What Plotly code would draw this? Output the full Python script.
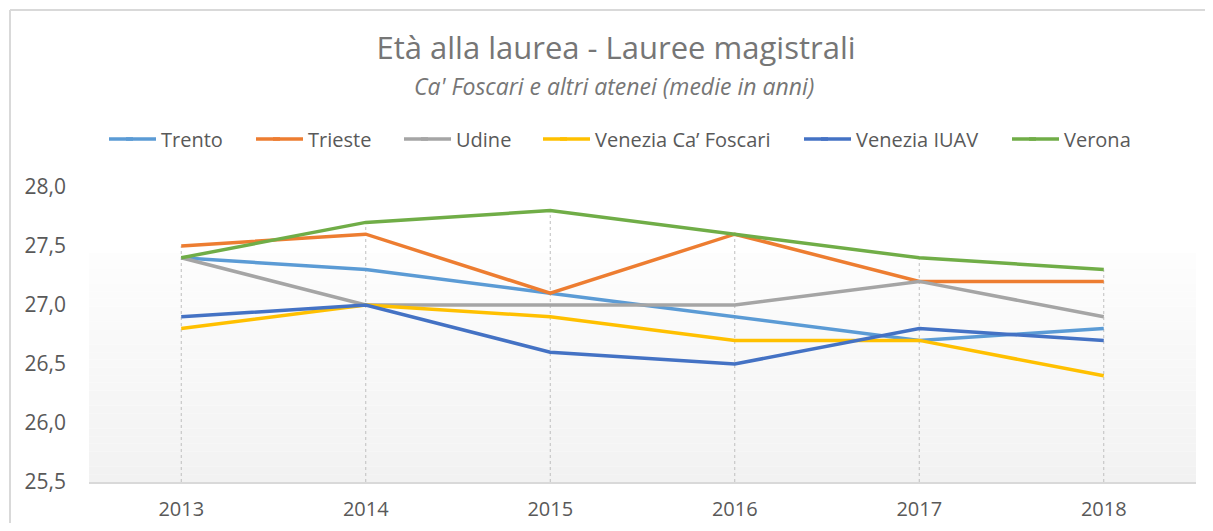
import plotly.graph_objects as go

years = ["2013", "2014", "2015", "2016", "2017", "2018"]
trento = [27.4, 27.3, 27.1, 26.9, 26.7, 26.8]
trieste = [27.5, 27.6, 27.1, 27.6, 27.2, 27.2]
udine = [27.4, 27.0, 27.0, 27.0, 27.2, 26.9]
ca_foscari = [26.8, 27.0, 26.9, 26.7, 26.7, 26.4]
iuav = [26.9, 27.0, 26.6, 26.5, 26.8, 26.7]
verona = [27.4, 27.7, 27.8, 27.6, 27.4, 27.3]

names = ["Trento", "Trieste", "Udine", "Venezia Ca\u2019 Foscari", "Venezia IUAV", "Verona"]
values = [trento, trieste, udine, ca_foscari, iuav, verona]
colors = ["#5B9BD5", "#ED7D31", "#A5A5A5", "#FFC000", "#4472C4", "#70AD47"]

y_min, y_max = 25.5, 28.0
y_ticks = [25.5, 26.0, 26.5, 27.0, 27.5, 28.0]
y_ticktext = [f"{v:.1f}".replace(".", ",") for v in y_ticks]

FONT = "Open Sans, Lato, sans-serif"
# page has an 8px body margin; figure laid out in its own coordinates
W, H = 1197, 515
L, R, T, B = 81, 9, 179, 41
PW = W - L - R
PH = H - T - B

# legend text start positions (figure px)
legend_text_x = [155, 302, 450, 589, 850, 1058]
legend_y = 131

fig = go.Figure()

shapes = []
n = 30
top = (474 - 245) / PH
for i in range(n):
    f = i / (n - 1)
    c = int(round(242 + (253 - 242) * f))
    shapes.append(dict(type="rect", xref="paper", yref="paper",
                       x0=0, x1=1, y0=top * i / n, y1=top * (i + 1) / n,
                       fillcolor=f"rgb({c},{c},{c})", line=dict(width=0),
                       layer="below"))

maxima = [max(v[i] for v in values) for i in range(len(years))]
for idx, m in enumerate(maxima):
    shapes.append(dict(type="line", xref="x", yref="y", x0=idx, x1=idx,
                       y0=y_min, y1=m, line=dict(color="#BFBFBF", width=1, dash="dot"),
                       layer="below"))

# chart frame (left and top edges visible)
shapes.append(dict(type="line", xref="paper", yref="paper",
                   x0=(2 - L) / PW, x1=(2 - L) / PW, y0=-1, y1=(H - B - 2) / PH,
                   line=dict(color="#D9D9D9", width=2)))
shapes.append(dict(type="line", xref="paper", yref="paper",
                   x0=(2 - L) / PW, x1=(W - L) / PW, y0=(H - B - 2) / PH, y1=(H - B - 2) / PH,
                   line=dict(color="#D9D9D9", width=2)))

legends = {}
for k, (name, vals, color) in enumerate(zip(names, values, colors)):
    lname = "legend" if k == 0 else f"legend{k + 1}"
    fig.add_trace(go.Scatter(x=list(range(len(years))), y=vals, name=name, mode="lines",
                             line=dict(color=color, width=3.5), legend=lname))
    legends[lname] = dict(orientation="h", xref="container", yref="container",
                          x=(legend_text_x[k] - 42) / W, xanchor="left",
                          y=1 - legend_y / H, yanchor="middle",
                          font=dict(size=20, color="#595959", family=FONT),
                          bgcolor="rgba(0,0,0,0)", borderwidth=0)
    # lengthen the legend key line to match the original key width
    ly = (H - B - legend_y) / PH
    shapes.append(dict(type="line", xref="paper", yref="paper",
                       x0=(legend_text_x[k] - 54 - L) / PW, x1=(legend_text_x[k] - 30 - L) / PW,
                       y0=ly, y1=ly, line=dict(color=color, width=3.5)))

fig.update_layout(
    width=W, height=H,
    margin=dict(l=L, r=R, t=T, b=B, autoexpand=False),
    paper_bgcolor="white",
    plot_bgcolor="rgba(0,0,0,0)",
    font=dict(family=FONT, color="#595959"),
    title=dict(text="Età alla laurea - Lauree magistrali",
               x=608 / W, xref="container", xanchor="center",
               yref="container", y=1 - 40 / H, yanchor="middle",
               font=dict(size=31, color="#767676", family=FONT)),
    annotations=[dict(text="<i>Ca' Foscari e altri atenei (medie in anni)</i>",
                      xref="paper", yref="paper", x=(606 - L) / PW, y=1 + (T - 78) / PH,
                      xanchor="center", yanchor="middle", showarrow=False,
                      font=dict(size=23, color="#767676", family=FONT))],
    shapes=shapes,
    showlegend=True,
    **legends,
)

fig.update_xaxes(range=[-0.5, len(years) - 0.5], tickvals=list(range(len(years))),
                 ticktext=years, showgrid=False, showline=True,
                 linecolor="#D9D9D9", linewidth=2, ticks="",
                 tickfont=dict(size=20, color="#595959", family=FONT),
                 ticklabelstandoff=8, zeroline=False)
fig.update_yaxes(range=[y_min, y_max], tickvals=y_ticks, ticktext=y_ticktext,
                 showgrid=False, showline=False, zeroline=False, ticks="",
                 tickfont=dict(size=21, color="#595959", family=FONT),
                 ticklabelstandoff=22)

fig.write_html("out.html")
